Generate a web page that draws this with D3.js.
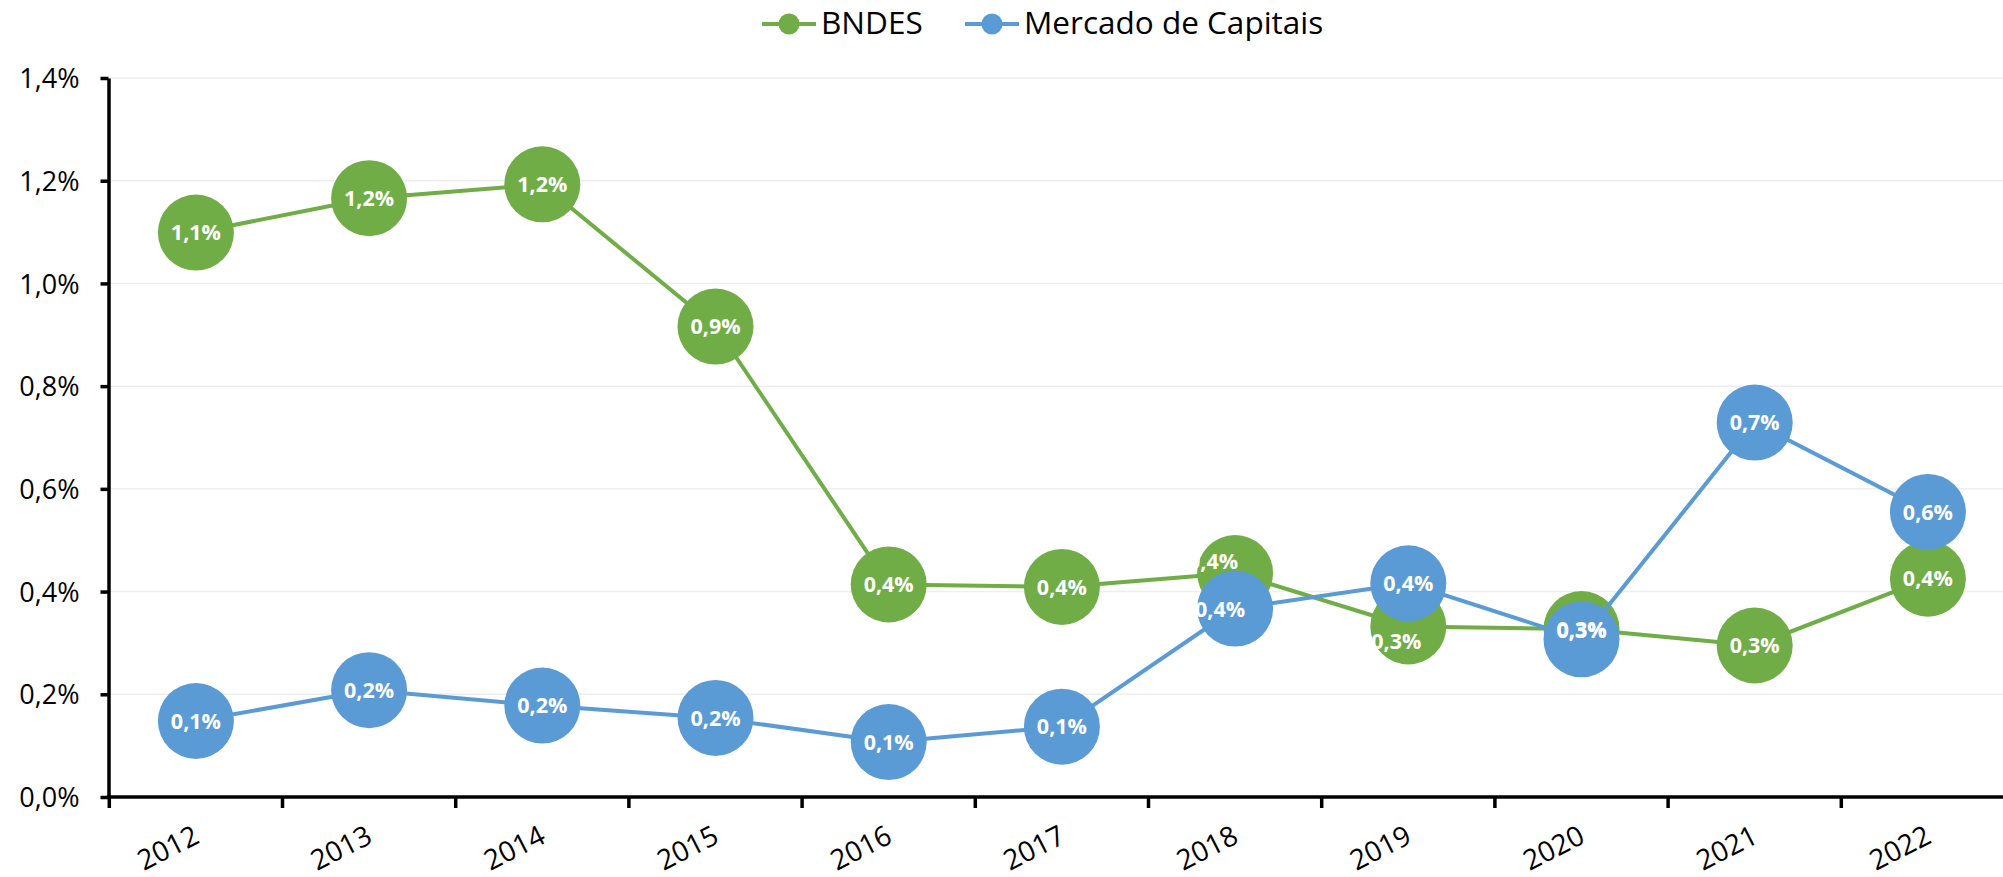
<!DOCTYPE html>
<html>
<head>
<meta charset="utf-8">
<script src="https://cdn.jsdelivr.net/npm/d3@7"></script>
<style>
  html, body { margin: 0; padding: 0; background: #ffffff; }
  svg { display: block; }
  text { font-family: "Open Sans", "Liberation Sans", sans-serif; }
</style>
</head>
<body>
<svg id="chart" width="2003" height="877"></svg>
<script>
// ---- Data ----
const years = ["2012","2013","2014","2015","2016","2017","2018","2019","2020","2021","2022"];
const bndes = [1.099, 1.166, 1.193, 0.916, 0.414, 0.409, 0.436, 0.332, 0.327, 0.295, 0.425];
const mercadoCapitais = [0.148, 0.208, 0.178, 0.154, 0.107, 0.137, 0.367, 0.416, 0.307, 0.729, 0.555];
const yTicks = [0, 0.2, 0.4, 0.6, 0.8, 1.0, 1.2, 1.4];
const seriesNames = ["BNDES", "Mercado de Capitais"];

// ---- Style / label nudges (kept apart from data) ----
const colors = ["#70AD47", "#5B9BD5"];
const labelNudge = [
  [[0,0],[0,0],[0,0],[0,0],[0,0],[0,0],[-22,-12],[-12,15],[0,0],[0,0],[0,0]],
  [[0,0],[0,0],[0,0],[0,0],[0,0],[0,0],[-15,1],[0,0],[0,-9],[0,0],[0,0]]
];

const svg = d3.select("#chart");
const W = 2003;

const x = d3.scaleBand().domain(years).range([109.3, 2014.5]).padding(0);
const y = d3.scaleLinear().domain([0, 1.4]).range([797, 78]);
const cx = d => x(d) + x.bandwidth() / 2;
const fmt = v => v.toFixed(1).replace(".", ",") + "%";

// gridlines
svg.append("g").selectAll("line").data(yTicks.filter(t => t > 0)).join("line")
  .attr("x1", 110).attr("x2", W)
  .attr("y1", d => y(d)).attr("y2", d => y(d))
  .attr("stroke", "#eeeeee").attr("stroke-width", 1.5);

// y axis
const yAxis = d3.axisLeft(y).tickValues(yTicks).tickSizeInner(8).tickSizeOuter(0)
  .tickPadding(21).tickFormat(fmt);
const gy = svg.append("g").attr("transform", "translate(108.5,0)").call(yAxis);
gy.select(".domain").attr("stroke", "#000").attr("stroke-width", 3.5);
gy.selectAll(".tick line").attr("stroke", "#000").attr("stroke-width", 3.5);
gy.selectAll(".tick text").attr("font-size", 27).attr("fill", "#000")
  .attr("font-family", "'Open Sans', sans-serif").attr("dy", "0.357em");

// x axis line
svg.append("line").attr("x1", 106.8).attr("x2", W).attr("y1", 797).attr("y2", 797)
  .attr("stroke", "#000").attr("stroke-width", 3.5);
// x ticks at band boundaries
svg.append("g").selectAll("line").data(years).join("line")
  .attr("x1", d => x(d)).attr("x2", d => x(d))
  .attr("y1", 797).attr("y2", 808)
  .attr("stroke", "#000").attr("stroke-width", 3.5);
// x labels
svg.append("g").selectAll("text").data(years).join("text")
  .attr("transform", d => `translate(${cx(d) + 5},842) rotate(-27)`)
  .attr("text-anchor", "end")
  .attr("font-size", 28).attr("fill", "#000")
  .text(d => d);

// series
const allSeries = [bndes, mercadoCapitais];
const line = d3.line().x((v, i) => cx(years[i])).y(v => y(v));
allSeries.forEach((vals, s) => {
  const g = svg.append("g");
  g.append("path").datum(vals).attr("d", line)
    .attr("fill", "none").attr("stroke", colors[s]).attr("stroke-width", 4)
    .attr("stroke-linejoin", "round");
  g.selectAll("circle").data(vals).join("circle")
    .attr("cx", (v, i) => cx(years[i])).attr("cy", v => y(v))
    .attr("r", 38).attr("fill", colors[s]);
});
// data labels on top
allSeries.forEach((vals, s) => {
  svg.append("g").selectAll("text").data(vals).join("text")
    .attr("x", (v, i) => cx(years[i]) + labelNudge[s][i][0])
    .attr("y", (v, i) => y(v) + labelNudge[s][i][1])
    .attr("dy", "0.36em")
    .attr("text-anchor", "middle")
    .attr("font-size", 21.5).attr("font-weight", "bold").attr("fill", "#ffffff")
    .text(v => fmt(v));
});

// legend
const legendItems = [
  { name: seriesNames[0], color: colors[0], x0: 762 },
  { name: seriesNames[1], color: colors[1], x0: 965 }
];
const lg = svg.append("g");
legendItems.forEach(it => {
  lg.append("line").attr("x1", it.x0).attr("x2", it.x0 + 54).attr("y1", 24).attr("y2", 24)
    .attr("stroke", it.color).attr("stroke-width", 4);
  lg.append("circle").attr("cx", it.x0 + 27).attr("cy", 24).attr("r", 10.5).attr("fill", it.color);
  lg.append("text").attr("x", it.x0 + 59).attr("y", 34.3)
    .attr("font-size", 31.5).attr("fill", "#000").text(it.name);
});
</script>
</body>
</html>
